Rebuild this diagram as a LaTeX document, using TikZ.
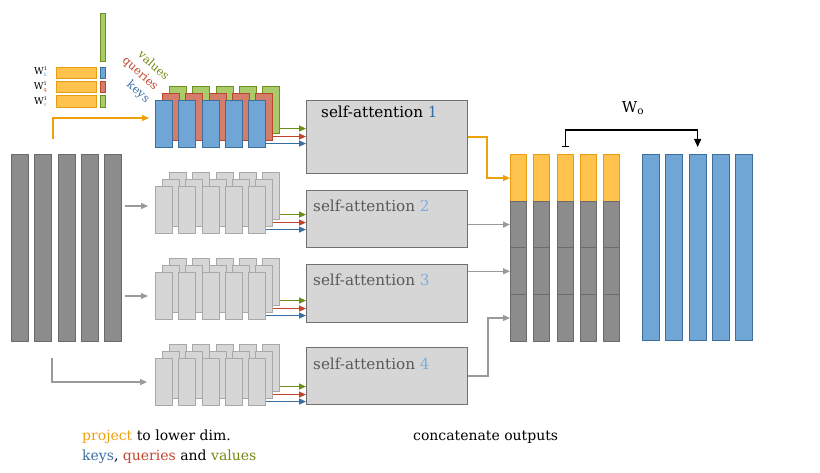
\documentclass[tikz,border=0pt]{standalone}
\usepackage{fontspec}
\setmainfont{DejaVu Serif}
\usepackage{xcolor}
\usetikzlibrary{arrows.meta}

\definecolor{ofill}{HTML}{FFC34D}
\definecolor{oline}{HTML}{E99D12}
\definecolor{bfill}{HTML}{6FA6D6}
\definecolor{bline}{HTML}{3E6E99}
\definecolor{rfill}{HTML}{D57D6B}
\definecolor{rline}{HTML}{B8472F}
\definecolor{gfill}{HTML}{A9CB6A}
\definecolor{gline}{HTML}{6F8F1F}
\definecolor{dfill}{HTML}{8C8C8C}
\definecolor{dline}{HTML}{6B6B6B}
\definecolor{lfill}{HTML}{D6D6D6}
\definecolor{lline}{HTML}{A8A8A8}
\definecolor{boxline}{HTML}{707070}
\definecolor{garr}{HTML}{6B8E12}
\definecolor{rarr}{HTML}{C0452C}
\definecolor{barr}{HTML}{3A6EA0}
\definecolor{grarr}{HTML}{9A9A9A}
\definecolor{oarr}{HTML}{EFA10A}
\definecolor{ktxt}{HTML}{3D6FA3}
\definecolor{qtxt}{HTML}{C0472E}
\definecolor{vtxt}{HTML}{708A12}
\definecolor{numone}{HTML}{2F6FA8}
\definecolor{numgray}{HTML}{7AAEDC}
\definecolor{graytxt}{HTML}{5A5A5A}

\tikzset{
  cell/.style={draw, rectangle, inner sep=0pt, line width=1.1pt, anchor=north west,
    minimum width=17pt, minimum height=47pt},
  lcell/.style={cell, fill=lfill, draw=lline},
  sabox/.style={draw=boxline, fill=lfill, rectangle, inner sep=0pt, line width=1.1pt,
    anchor=north west, minimum width=161pt},
  tip/.style={-{Triangle[length=7pt,width=6pt]}, line width=1.3pt},
  lbl/.style={anchor=base west, inner sep=0pt, font=\fontsize{14}{16}\selectfont},
  salbl/.style={anchor=base west, inner sep=0pt, font=\fontsize{15.2}{18}\selectfont},
  wlbl/.style={anchor=east, inner sep=0pt, font=\fontsize{9.5}{10}\selectfont},
  kqv/.style={rotate=-42, inner sep=0pt, font=\fontsize{11.5}{13}\selectfont}
}

\begin{document}
\begin{tikzpicture}[x=1pt, y=-1pt]
\useasboundingbox (0,0) rectangle (820,473);

%% poids
\node[cell, fill=ofill, draw=oline, minimum width=40pt, minimum height=11pt] (wk) at (56,67) {};
\node[cell, fill=ofill, draw=oline, minimum width=40pt, minimum height=11pt] (wq) at (56,81) {};
\node[cell, fill=ofill, draw=oline, minimum width=40pt, minimum height=12pt] (wv) at (56,95) {};
\node[cell, fill=bfill, draw=bline, minimum width=5pt, minimum height=11pt] (xk) at (100,67) {};
\node[cell, fill=rfill, draw=rline, minimum width=5pt, minimum height=11pt] (xq) at (100,81) {};
\node[cell, fill=gfill, draw=gline, minimum width=5pt, minimum height=12pt] (xv) at (100,95) {};
\node[cell, fill=gfill, draw=gline, minimum width=5pt, minimum height=48pt] (xin) at (100,13) {};
\node[wlbl] (lwk) at (47,72) {W\rlap{\raisebox{4pt}{\tiny 1}}\raisebox{-2pt}{\tiny\color{numgray}k}};
\node[wlbl] (lwq) at (47,87) {W\rlap{\raisebox{4pt}{\tiny 1}}\raisebox{-2pt}{\tiny\color{rarr}q}};
\node[wlbl] (lwv) at (47,102) {W\rlap{\raisebox{4pt}{\tiny 1}}\raisebox{-2pt}{\tiny\color{gfill!80!black}v}};

%% entree
\foreach \i in {1,...,5}
  \node[cell, fill=dfill, draw=dline, minimum height=187pt] (in\i) at ({11+23.3*(\i-1)},154) {};

%% tete 1
\foreach \i in {1,...,5}
  \node[cell, fill=gfill, draw=gline] (v1-\i) at ({169+23.3*(\i-1)},86) {};
\foreach \i in {1,...,5}
  \node[cell, fill=rfill, draw=rline] (q1-\i) at ({162+23.3*(\i-1)},93) {};
\foreach \i in {1,...,5}
  \node[cell, fill=bfill, draw=bline] (k1-\i) at ({155+23.3*(\i-1)},100) {};
\node[kqv, text=vtxt] (lv) at (154,65) {values};
\node[kqv, text=qtxt] (lq) at (140,74) {queries};
\node[kqv, text=ktxt] (lk) at (138,92) {keys};

%% tetes 2, 3, 4
\foreach \h in {2,3,4}{
  \pgfmathsetmacro\t{100+86*(\h-1)}
  \foreach \i in {1,...,5}
    \node[lcell] (v\h-\i) at ({169+23.3*(\i-1)},\t-14) {};
  \foreach \i in {1,...,5}
    \node[lcell] (q\h-\i) at ({162+23.3*(\i-1)},\t-7) {};
  \foreach \i in {1,...,5}
    \node[lcell] (k\h-\i) at ({155+23.3*(\i-1)},\t) {};
}

%% self-attention
\node[sabox, minimum height=73pt] (sa1) at (306,100) {};
\node[sabox, minimum height=57pt] (sa2) at (306,190) {};
\node[sabox, minimum height=58pt] (sa3) at (306,264) {};
\node[sabox, minimum height=57pt] (sa4) at (306,347) {};
\node[salbl] (st1) at (321,118) {self-attention {\color{numone}1}};
\node[salbl, text=graytxt] (st2) at (313,212) {self-attention {\color{numgray}2}};
\node[salbl, text=graytxt] (st3) at (313,286) {self-attention {\color{numgray}3}};
\node[salbl, text=graytxt] (st4) at (313,369) {self-attention {\color{numgray}4}};

%% fleches vers self-attention
\foreach \h in {1,...,4}{
  \coordinate (gv\h) at ([yshift=-18.5pt]v\h-5.east);
  \coordinate (gq\h) at ([yshift=-19.5pt]q\h-5.east);
  \coordinate (gk\h) at ([yshift=-19.5pt]k\h-5.east);
  \draw[tip, garr] (gv\h) -- (gv\h -| sa\h.west);
  \draw[tip, rarr] (gq\h) -- (gq\h -| sa\h.west);
  \draw[tip, barr] (gk\h) -- (gk\h -| sa\h.west);
}

%% projections
\coordinate (p1) at (53,139);
\coordinate (e1) at (149,118);
\draw[tip, oarr] (p1) |- (e1);
\coordinate (p2) at (125,206);
\draw[tip, grarr] (p2) -- ([xshift=-7pt]p2 -| k2-1.west);
\coordinate (p3) at (125,296);
\draw[tip, grarr] (p3) -- ([xshift=-7pt]p3 -| k3-1.west);
\coordinate (p4) at (52,358);
\draw[tip, grarr] (p4) |- ([xshift=-8pt]k4-1.west);

%% concatenation
\foreach \i in {1,...,5}{
  \node[cell, fill=ofill, draw=oline, minimum width=16pt, minimum height=47pt] (c\i-1) at ({510+23.3*(\i-1)},154) {};
  \foreach \j in {2,3,4}
    \node[cell, fill=dfill, draw=dline, minimum width=16pt, minimum height=46.7pt] (c\i-\j) at ({510+23.3*(\i-1)},{154+46.7*(\j-1)}) {};
}
\draw[tip, oarr] (sa1.east) -- ++(19,0) |- (c1-1.west);
\draw[tip, grarr] (sa2.east |- c1-2.west) -- (c1-2.west);
\draw[tip, grarr] (sa3.east |- c1-3.west) -- (c1-3.west);
\draw[tip, grarr] (sa4.east) -- ++(20,0) |- (c1-4.west);

%% sortie
\foreach \i in {1,...,5}
  \node[cell, fill=bfill, draw=bline, minimum height=186pt] (out\i) at ({642+23.3*(\i-1)},154) {};
\draw[{Bar[width=7pt]}-{Triangle[length=8pt,width=7pt]}, line width=1.3pt]
  ([yshift=7pt]c3-1.north) -- ++(0,-17) -| ([yshift=7pt]out3.north);
\node[font=\fontsize{15}{17}\selectfont] (wo) at (633,108) {W\textsubscript{o}};

%% legendes
\node[lbl] (proj) at (82,440) {{\color{oarr}project} to lower dim.};
\node[lbl] (kqv) at (82,460) {{\color{ktxt}keys}, {\color{qtxt}queries} and {\color{vtxt}values}};
\node[lbl] (concat) at (413,440) {concatenate outputs};

\end{tikzpicture}
\end{document}
